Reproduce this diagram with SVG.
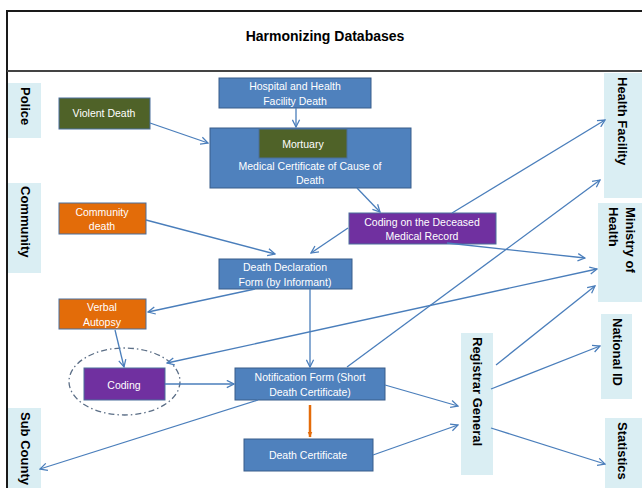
<svg xmlns="http://www.w3.org/2000/svg" width="642" height="488" viewBox="0 0 642 488">
<style>
.bg{fill:#ffffff}
.frame{fill:none;stroke:#1a1a1a;stroke-width:2}
.sep{stroke:#444;stroke-width:2}
.title{font-family:"Liberation Sans",Arial,sans-serif;font-weight:bold;font-size:14px;fill:#000;text-anchor:middle}
.side{fill:#DAEEF3}
.stxt{font-family:"Liberation Sans",Arial,sans-serif;font-weight:bold;font-size:13px;fill:#000;dominant-baseline:central}
.blue{fill:#4F81BD;stroke:#385D8A;stroke-width:1}
.olive{fill:#4F6228;stroke:#4A6E9C;stroke-width:1}
.orange{fill:#E36C09;stroke:#4A6E9C;stroke-width:1}
.purple{fill:#7030A0;stroke:#4A6E9C;stroke-width:1}
.t{font-family:"Liberation Sans",Arial,sans-serif;font-size:10.5px;fill:#fff;text-anchor:middle}
.c{fill:none;stroke:#4A7EBB;stroke-width:1.3}
.oc{fill:none;stroke:#E46C0A;stroke-width:2.5}
</style>
<defs>
<marker id="ah" viewBox="0 0 10 10" refX="9" refY="5" markerWidth="9" markerHeight="9" markerUnits="userSpaceOnUse" orient="auto-start-reverse">
<path d="M1,1 L9,5 L1,9" fill="none" stroke="#4A7EBB" stroke-width="1.4"/>
</marker>
<marker id="oh" viewBox="0 0 10 10" refX="9" refY="5" markerWidth="6" markerHeight="6" markerUnits="userSpaceOnUse" orient="auto">
<path d="M0,1 L10,5 L0,9 Z" fill="#E46C0A"/>
</marker>
</defs>
<rect class="bg" x="0" y="0" width="642" height="488"/>
<path class="frame" d="M7,488 L7,11 L643,11"/>
<line class="sep" x1="7" y1="71" x2="642" y2="71"/>
<text class="title" x="325" y="41">Harmonizing Databases</text>

<g id="police"><rect class="side" x="8" y="83" width="33" height="55"/><text class="stxt" transform="translate(25,87) rotate(90)">Police</text></g>
<g id="community"><rect class="side" x="8" y="183" width="33" height="90"/><text class="stxt" transform="translate(25,186) rotate(90)">Community</text></g>
<g id="subcounty"><rect class="side" x="8" y="408" width="33" height="80"/><text class="stxt" transform="translate(25,412) rotate(90)">Sub County</text></g>
<g id="healthfacility"><rect class="side" x="604" y="73" width="38" height="125"/><text class="stxt" transform="translate(622,77) rotate(90)">Health Facility</text></g>
<g id="ministry"><rect class="side" x="598" y="203" width="44" height="99"/><text class="stxt" transform="translate(630,207) rotate(90)">Ministry of</text><text class="stxt" transform="translate(613,207) rotate(90)">Health</text></g>
<g id="nationalid"><rect class="side" x="601" y="314" width="31" height="85"/><text class="stxt" transform="translate(617,318) rotate(90)">National ID</text></g>
<g id="statistics"><rect class="side" x="605" y="418" width="37" height="70"/><text class="stxt" transform="translate(622,422) rotate(90)">Statistics</text></g>
<g id="registrar"><rect class="side" x="461" y="333" width="32" height="142"/><text class="stxt" transform="translate(477,337) rotate(90)">Registrar General</text></g>

<g id="hospital"><rect class="blue" x="219" y="78" width="152" height="30"/><text class="t" x="295" y="90">Hospital and Health</text><text class="t" x="295" y="105">Facility Death</text></g>
<g id="mccd"><rect class="blue" x="210" y="128" width="201" height="60"/><text class="t" x="310" y="170">Medical Certificate of Cause of</text><text class="t" x="310" y="184">Death</text></g>
<g id="mortuary"><rect class="olive" x="259" y="129" width="88" height="29"/><text class="t" x="303" y="148">Mortuary</text></g>
<g id="violent"><rect class="olive" x="59" y="98" width="91" height="31"/><text class="t" x="104" y="117">Violent Death</text></g>
<g id="commdeath"><rect class="orange" x="59" y="203" width="87" height="31"/><text class="t" x="102" y="216">Community</text><text class="t" x="102" y="230">death</text></g>
<g id="codingdeceased"><rect class="purple" x="349" y="213" width="147" height="31"/><text class="t" x="422" y="226">Coding on the Deceased</text><text class="t" x="422" y="240">Medical Record</text></g>
<g id="ddf"><rect class="blue" x="219" y="259" width="133" height="30"/><text class="t" x="285" y="271">Death Declaration</text><text class="t" x="285" y="286">Form (by Informant)</text></g>
<g id="verbal"><rect class="orange" x="59" y="299" width="87" height="30"/><text class="t" x="102" y="311">Verbal</text><text class="t" x="102" y="326">Autopsy</text></g>
<g id="coding"><ellipse cx="124.5" cy="381.5" rx="55.5" ry="33.5" fill="none" stroke="#5B6E86" stroke-width="1.3" stroke-dasharray="6 3 1.5 3"/><rect class="purple" x="84" y="368" width="81" height="32"/><text class="t" x="124" y="389">Coding</text></g>
<g id="notification"><rect class="blue" x="235" y="368" width="150" height="32"/><text class="t" x="310" y="381">Notification  Form (Short</text><text class="t" x="310" y="396">Death Certificate)</text></g>
<g id="deathcert"><rect class="blue" x="244" y="439" width="129" height="32"/><text class="t" x="308" y="459">Death Certificate</text></g>

<g id="connectors">
<line class="c" x1="150" y1="123" x2="208" y2="143" marker-end="url(#ah)"/>
<line class="c" x1="296" y1="108" x2="296" y2="127" marker-end="url(#ah)"/>
<line class="c" x1="357" y1="188" x2="380" y2="212" marker-end="url(#ah)"/>
<line class="c" x1="348" y1="228" x2="311" y2="253" marker-end="url(#ah)"/>
<line class="c" x1="146" y1="220" x2="275" y2="254" marker-end="url(#ah)"/>
<line class="c" x1="447" y1="243" x2="585" y2="258" marker-end="url(#ah)"/>
<line class="c" x1="452" y1="213" x2="605" y2="120" marker-end="url(#ah)"/>
<line class="c" x1="347" y1="367" x2="600" y2="180" marker-end="url(#ah)"/>
<line class="c" x1="167" y1="363" x2="597" y2="269" marker-start="url(#ah)" marker-end="url(#ah)"/>
<line class="c" x1="255" y1="289" x2="148" y2="312" marker-end="url(#ah)"/>
<line class="c" x1="115" y1="330" x2="124" y2="367" marker-end="url(#ah)"/>
<line class="c" x1="310" y1="289" x2="310" y2="367" marker-end="url(#ah)"/>
<line class="c" x1="165" y1="384" x2="234" y2="384" marker-end="url(#ah)"/>
<line class="c" x1="258" y1="400" x2="40" y2="469" marker-end="url(#ah)"/>
<line class="c" x1="385" y1="385" x2="458" y2="406" marker-end="url(#ah)"/>
<line class="c" x1="373" y1="455" x2="458" y2="425" marker-end="url(#ah)"/>
<line class="c" x1="496" y1="365" x2="595" y2="286" marker-end="url(#ah)"/>
<line class="c" x1="491" y1="389" x2="600" y2="346" marker-end="url(#ah)"/>
<line class="c" x1="491" y1="428" x2="605" y2="464" marker-end="url(#ah)"/>
<line class="oc" x1="310" y1="405" x2="310" y2="437" marker-end="url(#oh)"/>
</g>
</svg>
